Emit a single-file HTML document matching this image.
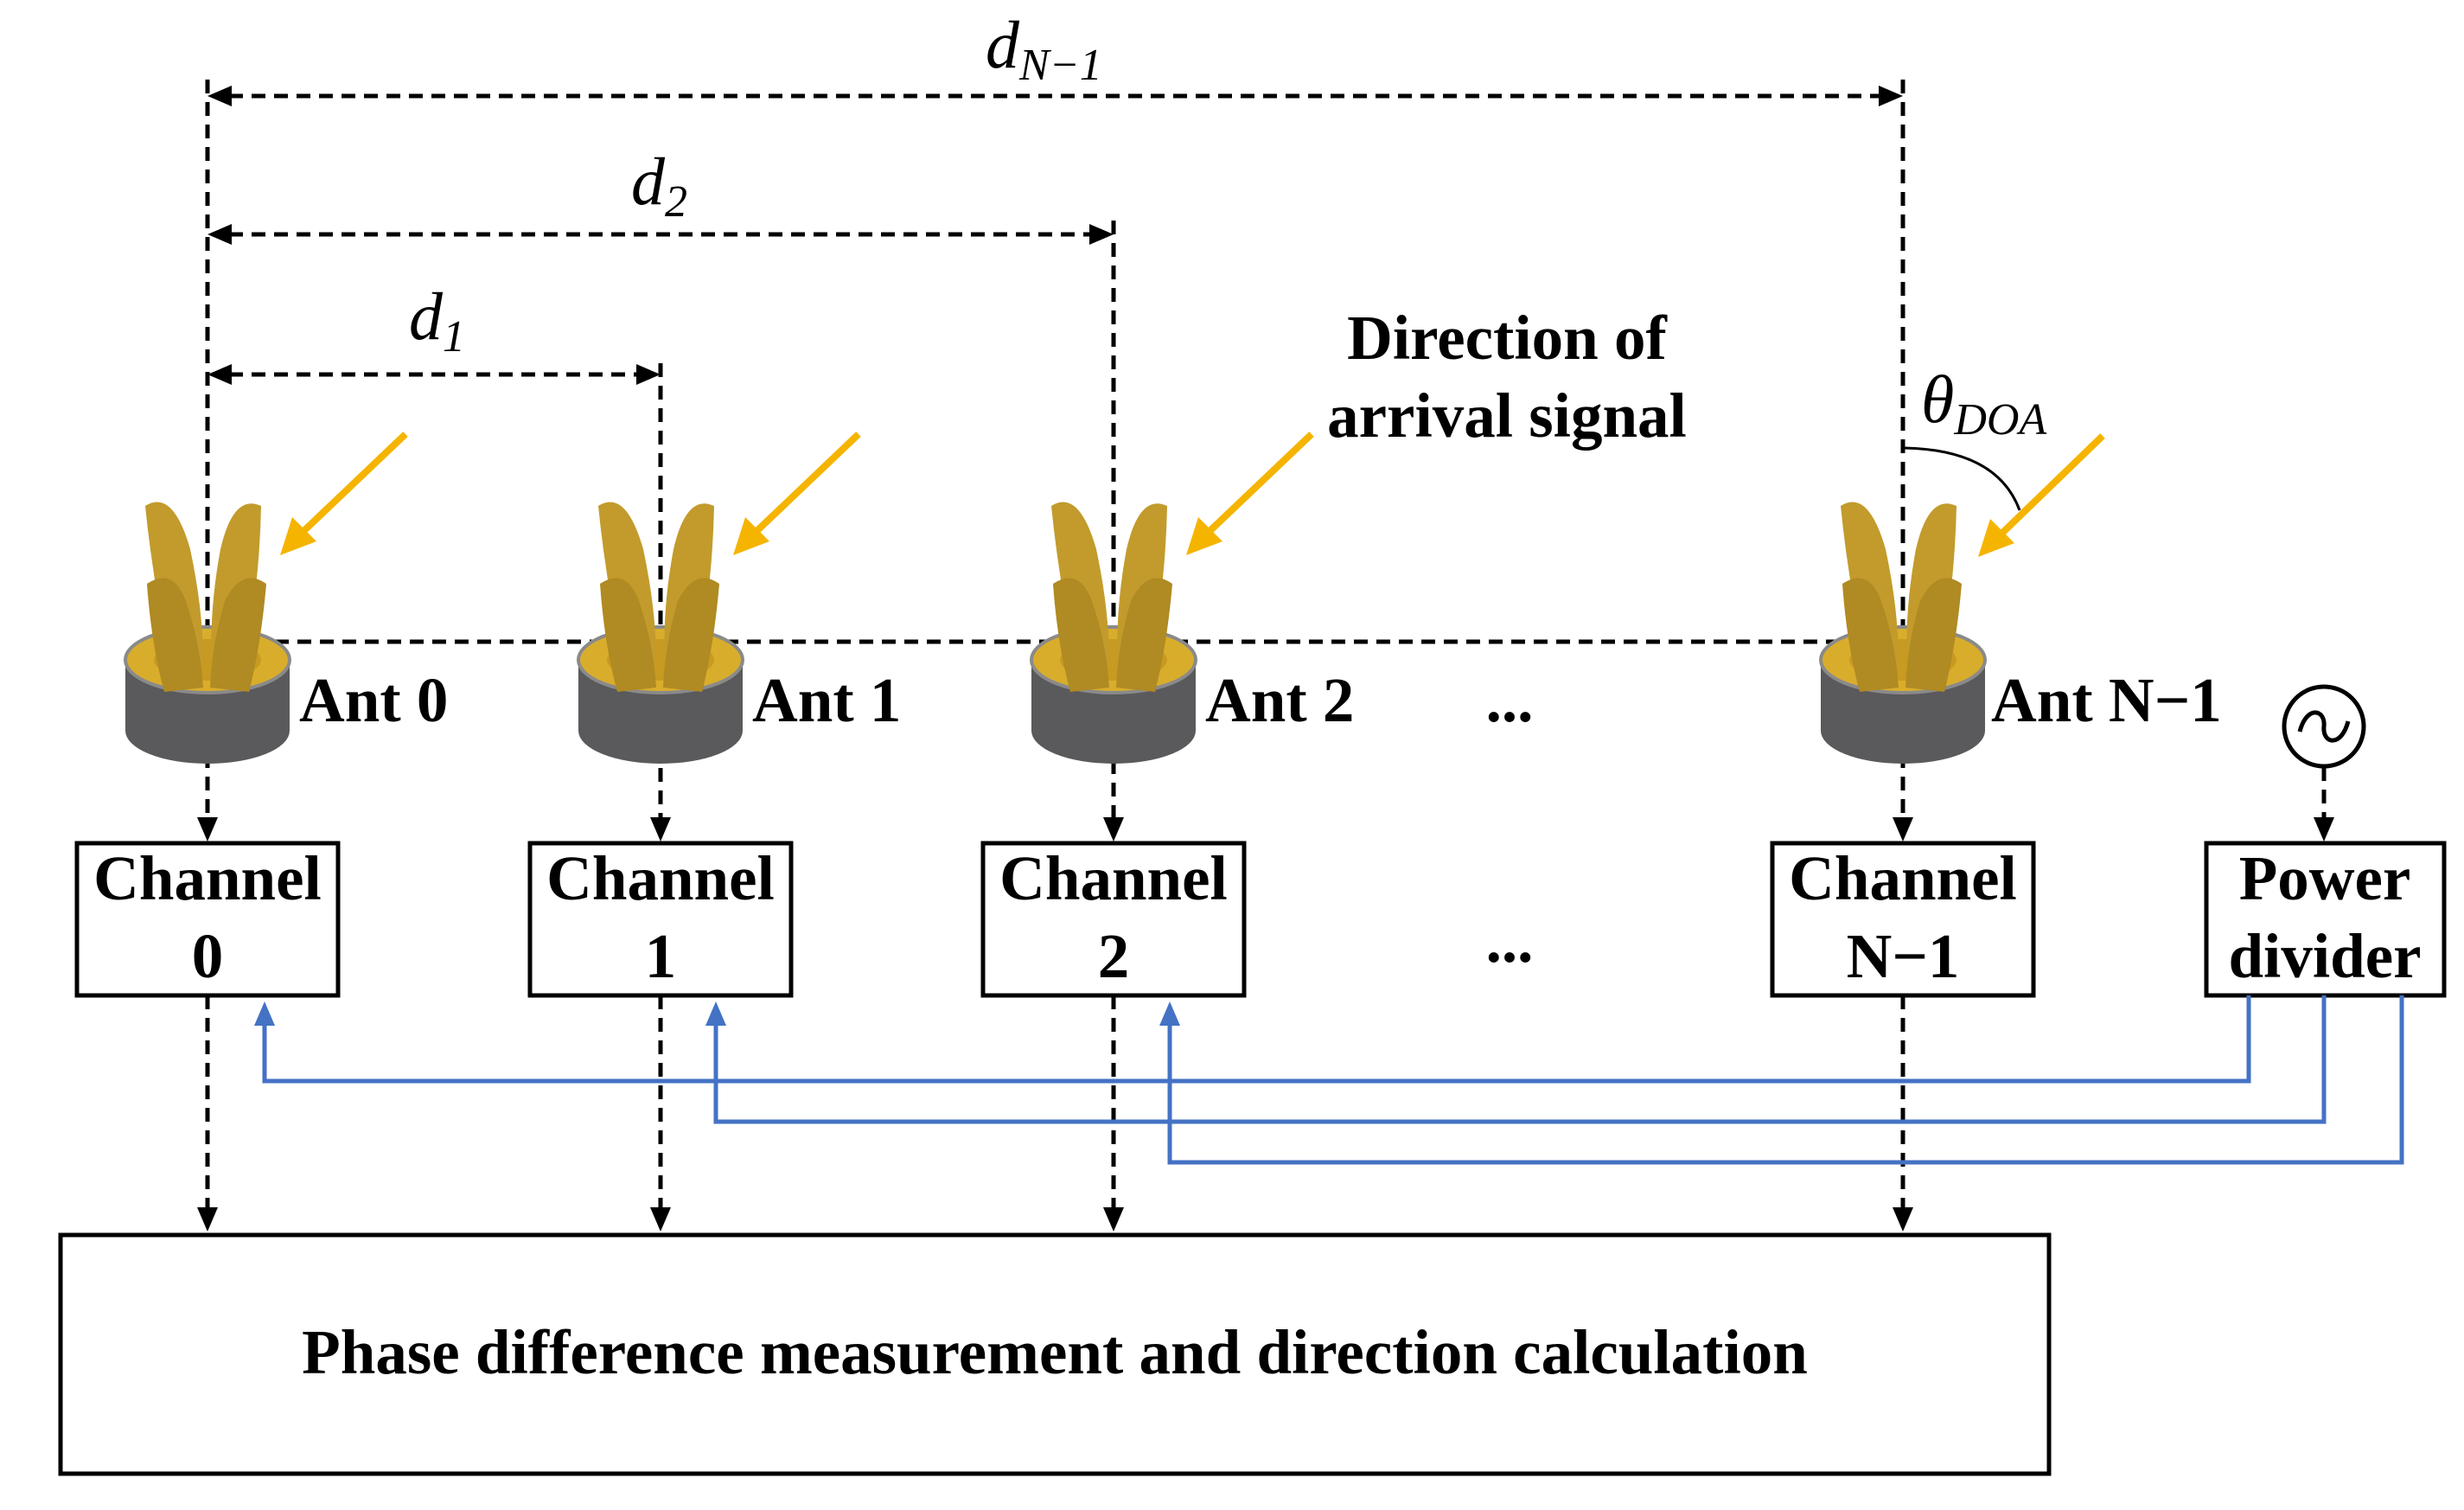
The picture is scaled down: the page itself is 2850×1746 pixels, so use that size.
<!DOCTYPE html>
<html><head><meta charset="utf-8"><style>
html,body{margin:0;padding:0;background:#fff}
svg{display:block}
.b{font-family:"Liberation Serif",serif;font-weight:bold;fill:#000}
.m{font-family:"Liberation Serif",serif;font-style:italic;fill:#000}
</style></head><body>
<svg width="2850" height="1746" viewBox="0 0 2850 1746" xmlns="http://www.w3.org/2000/svg">
<defs>
<g id="ant">
  <path d="M-95,-22 L-95,60 A95,38 0 0 0 95,60 L95,-22 Z" fill="#5a5a5c"/>
  <ellipse cx="0" cy="-22" rx="95" ry="38" fill="#d9ad2c" stroke="#8a8a8a" stroke-width="4"/>
  <ellipse cx="0" cy="-22" rx="62" ry="24" fill="#c79a22"/>
  <path d="M-72,-200 Q-40,-220 -20,-150 Q-5,-80 -5,-20 L-40,-10 Q-62,-100 -72,-200 Z" fill="#c29b2c"/>
  <path d="M62,-200 Q30,-215 15,-150 Q2,-80 5,-20 L40,-10 Q60,-100 62,-200 Z" fill="#c29b2c"/>
  <path d="M-70,-110 Q-40,-130 -25,-90 Q-8,-40 -5,10 L-50,15 Q-65,-40 -70,-110 Z" fill="#b08a22"/>
  <path d="M68,-110 Q40,-130 20,-90 Q5,-40 3,10 L48,15 Q62,-40 68,-110 Z" fill="#b08a22"/>
</g>
<path id="ahd" d="M0,0 L-12,-28 L12,-28 Z" fill="#000"/>
</defs>

<g stroke="#000" stroke-width="5" stroke-dasharray="16,10" fill="none">
  <line x1="240" y1="92" x2="240" y2="946"/>
  <line x1="764" y1="420" x2="764" y2="946"/>
  <line x1="1288" y1="255" x2="1288" y2="946"/>
  <line x1="2201" y1="92" x2="2201" y2="946"/>
  <line x1="265" y1="111" x2="2175" y2="111"/>
  <line x1="265" y1="271" x2="1262" y2="271"/>
  <line x1="265" y1="433" x2="738" y2="433"/>
  <line x1="240" y1="742" x2="2201" y2="742"/>
  <line x1="240" y1="1151" x2="240" y2="1400"/>
  <line x1="764" y1="1151" x2="764" y2="1400"/>
  <line x1="1288" y1="1151" x2="1288" y2="1400"/>
  <line x1="2201" y1="1151" x2="2201" y2="1400"/>
  <line x1="2688" y1="887" x2="2688" y2="950"/>
</g>
<g fill="#000">
  <path d="M240,111 L268,99 L268,123 Z"/><path d="M2201,111 L2173,99 L2173,123 Z"/>
  <path d="M240,271 L268,259 L268,283 Z"/><path d="M1288,271 L1260,259 L1260,283 Z"/>
  <path d="M240,433 L268,421 L268,445 Z"/><path d="M764,433 L736,421 L736,445 Z"/>
  <use href="#ahd" x="240" y="973"/><use href="#ahd" x="764" y="973"/><use href="#ahd" x="1288" y="973"/><use href="#ahd" x="2201" y="973"/><use href="#ahd" x="2688" y="973"/>
  <use href="#ahd" x="240" y="1424"/><use href="#ahd" x="764" y="1424"/><use href="#ahd" x="1288" y="1424"/><use href="#ahd" x="2201" y="1424"/>
</g>

<use href="#ant" x="240" y="785"/>
<use href="#ant" x="764" y="785"/>
<use href="#ant" x="1288" y="785"/>
<use href="#ant" x="2201" y="785"/>

<g stroke="#f5b400" stroke-width="8" fill="#f5b400">
  <line x1="469" y1="502" x2="345" y2="620"/><path d="M324,642 L338,598 L366,626 Z" stroke="none"/>
  <line x1="993" y1="502" x2="869" y2="620"/><path d="M848,642 L862,598 L890,626 Z" stroke="none"/>
  <line x1="1517" y1="502" x2="1393" y2="620"/><path d="M1372,642 L1386,598 L1414,626 Z" stroke="none"/>
  <line x1="2432" y1="504" x2="2310" y2="622"/><path d="M2288,644 L2302,600 L2330,628 Z" stroke="none"/>
</g>
<path d="M2203,518 Q2310,520 2336,590" stroke="#000" stroke-width="3" fill="none"/>

<g class="b" font-size="73">
  <text x="346" y="834">Ant 0</text>
  <text x="870" y="834">Ant 1</text>
  <text x="1394" y="834">Ant 2</text>
  <text x="2303" y="834">Ant N−1</text>
  <text x="1746" y="834" text-anchor="middle">...</text>
  <text x="1746" y="1112" text-anchor="middle">...</text>
  <text x="1743" y="415" text-anchor="middle">Direction of</text>
  <text x="1743" y="505" text-anchor="middle">arrival signal</text>
</g>
<g class="m" font-size="78">
  <text x="1140" y="78">d<tspan font-size="52" dy="14">N−1</tspan></text>
  <text x="730" y="236">d<tspan font-size="52" dy="14">2</tspan></text>
  <text x="473" y="392">d<tspan font-size="52" dy="14">1</tspan></text>
  <text x="2222" y="488">θ<tspan font-size="52" dy="14">DOA</tspan></text>
</g>

<g stroke="#000" stroke-width="5" fill="#fff">
  <rect x="89" y="975" width="302" height="176"/>
  <rect x="613" y="975" width="302" height="176"/>
  <rect x="1137" y="975" width="302" height="176"/>
  <rect x="2050" y="975" width="302" height="176"/>
  <rect x="2552" y="975" width="275" height="176"/>
  <rect x="70" y="1428" width="2300" height="276"/>
  <circle cx="2688" cy="840" r="46"/>
</g>
<path d="M2660,846 C2668,815 2690,820 2688,840 C2686,860 2708,865 2716,834" stroke="#000" stroke-width="5" fill="none"/>
<g class="b" font-size="73" text-anchor="middle">
  <text x="240" y="1040">Channel</text><text x="240" y="1130">0</text>
  <text x="764" y="1040">Channel</text><text x="764" y="1130">1</text>
  <text x="1288" y="1040">Channel</text><text x="1288" y="1130">2</text>
  <text x="2201" y="1040">Channel</text><text x="2201" y="1130">N−1</text>
  <text x="2689" y="1040">Power</text><text x="2689" y="1130">divider</text>
  <text x="1220" y="1588" font-size="73">Phase difference measurement and direction calculation</text>
</g>

<g stroke="#4472c4" stroke-width="5" fill="none">
  <polyline points="2601,1151 2601,1250 306,1250 306,1180"/>
  <polyline points="2688,1151 2688,1297 828,1297 828,1180"/>
  <polyline points="2778,1151 2778,1344 1353,1344 1353,1180"/>
</g>
<g fill="#4472c4">
  <path d="M306,1158 L294,1186 L318,1186 Z"/>
  <path d="M828,1158 L816,1186 L840,1186 Z"/>
  <path d="M1353,1158 L1341,1186 L1365,1186 Z"/>
</g>
</svg>
</body></html>
